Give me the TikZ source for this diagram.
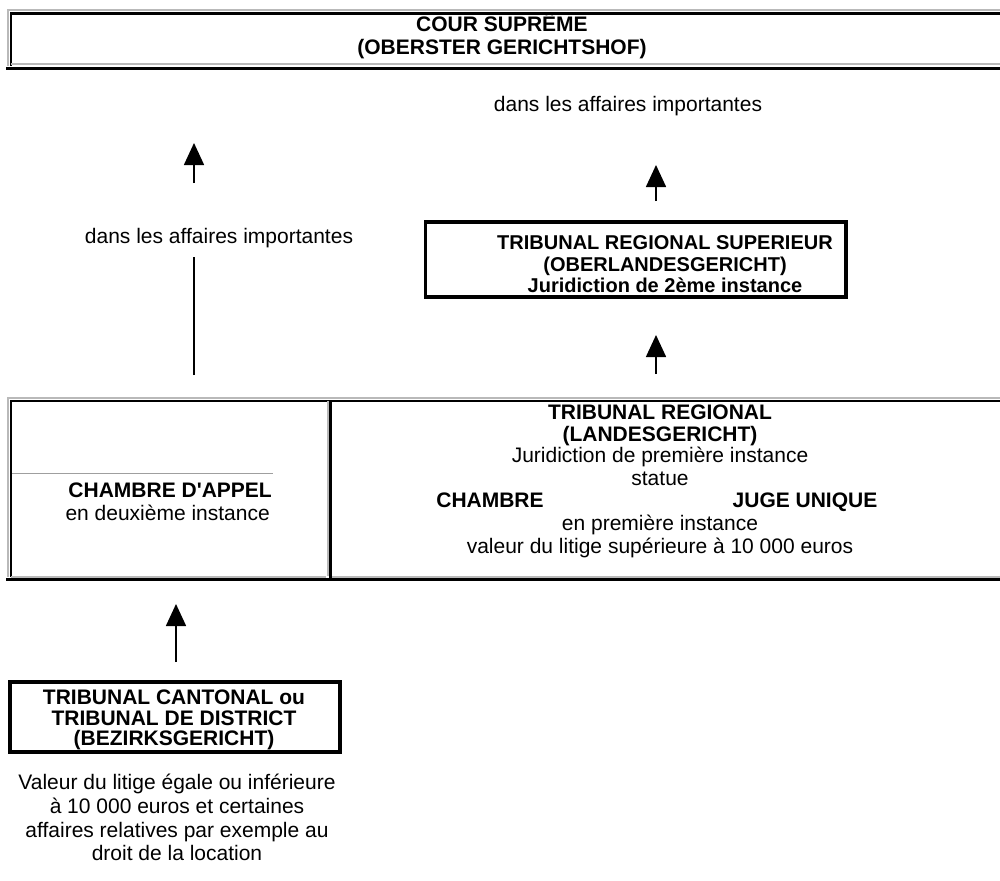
\documentclass[tikz,border=0pt]{standalone}
\usepackage{fontspec}
\setmainfont{Liberation Sans}
\usetikzlibrary{arrows.meta}
\begin{document}
\begin{tikzpicture}[x=1pt,y=-1pt,
  txt/.style={inner sep=0pt, anchor=base, font=\fontsize{21}{24}\selectfont},
  btxt/.style={inner sep=0pt, anchor=base, font=\fontsize{21}{24}\selectfont\bfseries},
  sbtxt/.style={inner sep=0pt, anchor=base, font=\fontsize{20}{22}\selectfont\bfseries},
  grayline/.style={draw=gray!55, line width=2pt},
  blackline/.style={draw=black, line width=2.5pt},
  heavyline/.style={draw=black, line width=3pt},
  thinline/.style={draw=gray!75, line width=1pt},
  arr/.style={line width=1.6pt, -{Triangle[width=20pt,length=22pt]}},
  plainline/.style={line width=1.6pt},
  framebox/.style={draw=black, line width=4pt, inner sep=0pt}
]
\useasboundingbox (0,0) rectangle (1000,880);

% ---- top frame: Cour supreme
\draw[grayline] (1005,10.5) -- (8,10.5) -- (8,66);
\draw[blackline] (1005,13.5) -- (11,13.5) -- (11,66);
\draw[grayline] (11,64.5) -- (1005,64.5);
\draw[heavyline] (6,69) -- (1005,69);
\node[btxt] (cour1) at (502,32) {COUR SUPRÊME};
\node[btxt] (cour2) at (502,54.5) {(OBERSTER GERICHTSHOF)};

% ---- middle frame
\draw[grayline] (1005,398) -- (8,398) -- (8,577);
\draw[blackline] (1005,401) -- (11,401) -- (11,577);
\draw[grayline] (11,576.5) -- (326,576.5);
\draw[grayline] (332,576.5) -- (1005,576.5);
\draw[grayline] (327.5,401) -- (327.5,576);
\draw[blackline] (330.5,400) -- (330.5,579);
\draw[heavyline] (6,579.5) -- (1005,579.5);
\draw[thinline] (12,473) -- (273,473);

\node[btxt, anchor=base east] (appel) at (272,497.5) {CHAMBRE D\textquotesingle APPEL};
\node[txt, anchor=base east] (deux) at (270,520.5) {en deuxième instance};

\node[btxt] (lg1) at (660,419.5) {TRIBUNAL REGIONAL};
\node[btxt] (lg2) at (660,441) {(LANDESGERICHT)};
\node[txt] (lg3) at (660,462.5) {Juridiction de première instance};
\node[txt] (lg4) at (660,485.5) {statue};
\node[btxt] (chambre) at (490,507.5) {CHAMBRE};
\node[btxt] (juge) at (805,507.5) {JUGE UNIQUE};
\node[txt] (lg5) at (660,530) {en première instance};
\node[txt] (lg6) at (660,553) {valeur du litige supérieure à 10 000 euros};

% ---- Tribunal regional superieur
\node[draw=black, line width=3.5pt, inner sep=0pt, minimum width=420.5pt, minimum height=75pt] (trs) at (635.75,259.5) {};
\node[sbtxt] (trs1) at (665,249) {TRIBUNAL REGIONAL SUPERIEUR};
\node[sbtxt] (trs2) at (665,271) {(OBERLANDESGERICHT)};
\node[sbtxt] (trs3) at (665,292.5) {Juridiction de 2ème instance};

\node[txt] (imp1) at (628,112) {dans les affaires importantes};
\node[txt] (imp2) at (219,243) {dans les affaires importantes};

% ---- Tribunal cantonal
\node[framebox, minimum width=330.5pt, minimum height=70pt] (tc) at (174.75,717) {};
\node[btxt] (tc1) at (174,704.5) {TRIBUNAL CANTONAL ou};
\node[btxt] (tc2) at (174,725) {TRIBUNAL DE DISTRICT};
\node[btxt] (tc3) at (174,745.5) {(BEZIRKSGERICHT)};
\node[txt] (v1) at (177,789) {Valeur du litige égale ou inférieure};
\node[txt] (v2) at (177,813) {à 10 000 euros et certaines};
\node[txt] (v3) at (177,837) {affaires relatives par exemple au};
\node[txt] (v4) at (177,860) {droit de la location};

% ---- connectors
\coordinate (a1s) at (194,183);
\coordinate (a1t) at (194,143);
\coordinate (l1s) at (194,375);
\coordinate (l1t) at (194,257);
\draw[arr] (a1s) -- (a1t);
\draw[plainline] (l1s) -- (l1t);

\coordinate (a2s) at (656,201);
\coordinate (a2t) at (656,165);
\draw[arr] (a2s) -- (a2t);

\coordinate (a3s) at (656,374);
\coordinate (a3t) at (656,335);
\draw[arr] (a3s) -- (a3t);

\coordinate (a4s) at (176,662);
\coordinate (a4t) at (176,604);
\draw[arr] (a4s) -- (a4t);
\end{tikzpicture}
\end{document}
